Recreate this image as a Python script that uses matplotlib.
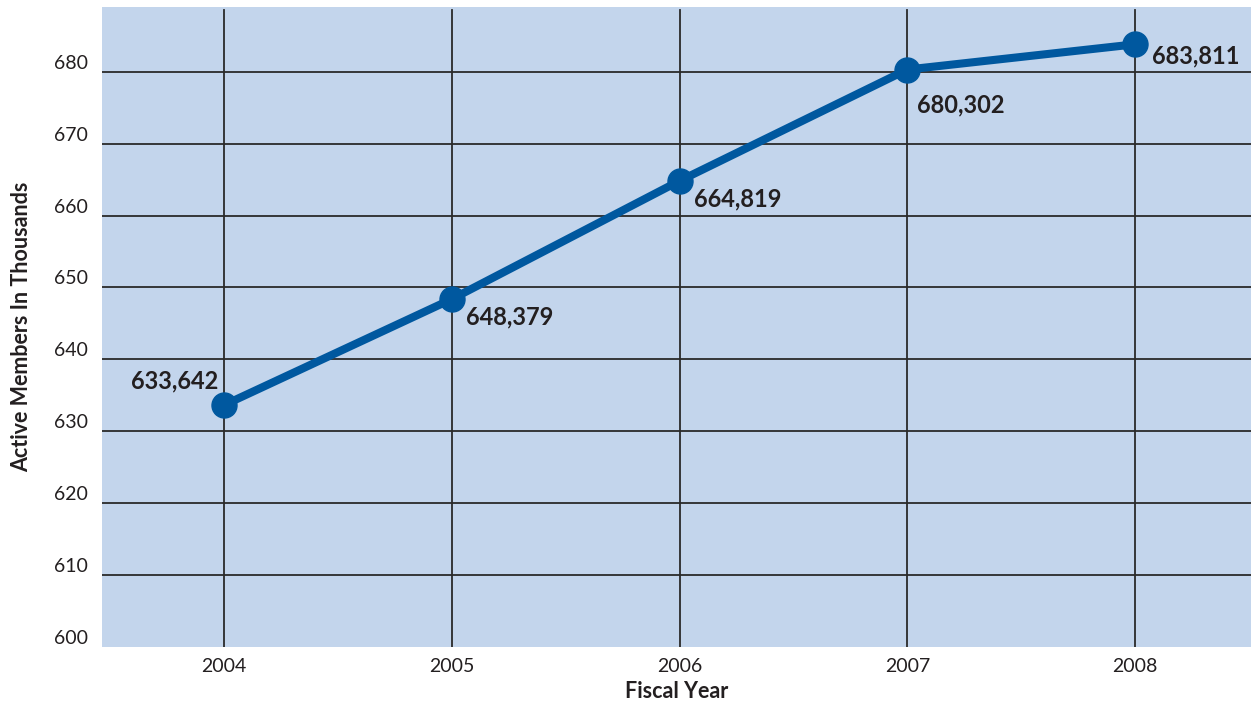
# 필요한 라이브러리 임포트
import matplotlib

matplotlib.use("Agg")
import matplotlib.pyplot as plt

# 회계연도별 활동 회원 수 (천 명 단위 라벨 값)
years = [2004, 2005, 2006, 2007, 2008]
members = [633642, 648379, 664819, 680302, 683811]
y_ticks = [600, 610, 620, 630, 640, 650, 660, 670, 680]

# 각 라벨 위치 (점 기준 픽셀 오프셋, 정렬)
label_offsets = [(-49, 24, "center"), (14, -18, "left"), (14, -18, "left"),
                 (10, -35, "left"), (17, -12, "left")]

BG_COLOR = "#c3d5ec"
LINE_COLOR = "#00589f"
TEXT_COLOR = "#231f20"
GRID_COLOR = "#2a2a2a"


def plot_members():
    """활동 회원 수 추이를 그림"""
    plt.rcParams["font.family"] = ["Lato", "DejaVu Sans"]
    fig = plt.figure(figsize=(12.51, 7.06), dpi=100)
    ax = fig.add_axes([0.0815, 0.0836, 0.9185, 0.9065])
    ax.set_facecolor(BG_COLOR)

    values = [m / 1000 for m in members]

    # 격자선 (600 선은 그리지 않음)
    for t in y_ticks[1:]:
        ax.axhline(t, color=GRID_COLOR, lw=1.3, zorder=1)
    for yr in years:
        ax.axvline(yr, ymax=0.995, color=GRID_COLOR, lw=1.3, zorder=1)

    ax.plot(years, values, color=LINE_COLOR, lw=5.8, marker="o",
            markersize=18, zorder=3, solid_capstyle="round")

    # 값 라벨
    for yr, v, m, (dx, dy, ha) in zip(years, values, members, label_offsets):
        ax.annotate(f"{m:,}", (yr, v), xytext=(dx, dy),
                    textcoords="offset pixels", ha=ha, va="center",
                    fontsize=17, fontweight="bold", color=TEXT_COLOR, zorder=4)

    ax.set_xlim(2003.464, 2008.509)
    ax.set_ylim(600, 689)
    ax.set_xticks(years)
    ax.set_xticklabels([str(y) for y in years])
    ax.set_yticks(y_ticks)
    ax.set_yticklabels([str(t) for t in y_ticks], va="bottom")
    ax.tick_params(length=0, labelsize=14, colors=TEXT_COLOR)
    ax.tick_params(axis="y", pad=10)
    ax.tick_params(axis="x", pad=8)
    for s in ax.spines.values():
        s.set_visible(False)

    ax.set_xlabel("Fiscal Year", fontsize=15.5, fontweight="bold",
                  color=TEXT_COLOR, labelpad=4)
    ax.set_ylabel("Active Members In Thousands", fontsize=15.5,
                  fontweight="bold", color=TEXT_COLOR, labelpad=16)

    fig.savefig("out.png", dpi=100, facecolor="white")


if __name__ == "__main__":
    plot_members()
